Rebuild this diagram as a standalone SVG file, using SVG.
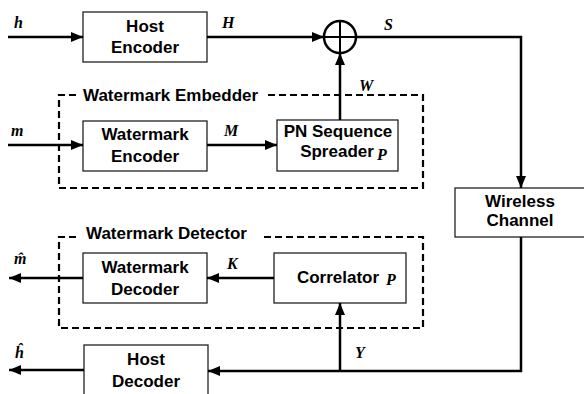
<svg xmlns="http://www.w3.org/2000/svg" width="584" height="394" viewBox="0 0 584 394">
<defs>
<marker id="ah" viewBox="0 0 12 10" refX="12" refY="5" markerWidth="12" markerHeight="10" markerUnits="userSpaceOnUse" orient="auto">
<path d="M0,0 L12,5 L0,10 Z" fill="#000"/>
</marker>
<style>
.box{fill:#fff;stroke:#222;stroke-width:1.3}
.dash{fill:none;stroke:#000;stroke-width:2.2;stroke-dasharray:7 4}
.ln{fill:none;stroke:#000;stroke-width:2.5}
.t{font-family:"Liberation Sans",Arial,sans-serif;font-weight:bold;font-size:17px;fill:#000;text-anchor:middle}
.tl{font-family:"Liberation Sans",Arial,sans-serif;font-weight:bold;font-size:17px;fill:#000}
.v{font-family:"Liberation Serif","Times New Roman",serif;font-weight:bold;font-style:italic;font-size:16px;fill:#000}
</style>
</defs>
<rect width="584" height="394" fill="#fff"/>

<g id="embedder">
<path class="dash" d="M76,95 H59 V188 H423 V95 H266"/>
<text class="tl" x="83" y="101">Watermark Embedder</text>
</g>
<g id="detector">
<path class="dash" d="M76,237 H59 V328 H423 V237 H262"/>
<text class="tl" x="86" y="239">Watermark Detector</text>
</g>

<g id="host-encoder">
<rect class="box" x="83" y="12" width="124" height="50"/>
<text class="t" x="145" y="32">Host</text>
<text class="t" x="145" y="53">Encoder</text>
</g>
<g id="adder">
<circle cx="340" cy="37" r="16" fill="#fff" stroke="#000" stroke-width="2.5"/>
<path d="M324,37 H356 M340,21 V53" stroke="#000" stroke-width="2"/>
</g>
<g id="watermark-encoder">
<rect class="box" x="83" y="121" width="124" height="50"/>
<text class="t" x="145" y="140">Watermark</text>
<text class="t" x="145" y="162">Encoder</text>
</g>
<g id="pn-spreader">
<rect class="box" x="277" y="120" width="121" height="51"/>
<text class="t" x="338" y="137">PN Sequence</text>
<text class="t" x="337" y="157">Spreader</text>
<text class="v" x="377" y="160">P</text>
</g>
<g id="wireless-channel">
<rect class="box" x="455" y="188" width="135" height="49"/>
<text class="t" x="520" y="207">Wireless</text>
<text class="t" x="520" y="226">Channel</text>
</g>
<g id="watermark-decoder">
<rect class="box" x="83" y="253" width="124" height="50"/>
<text class="t" x="145" y="273">Watermark</text>
<text class="t" x="145" y="295">Decoder</text>
</g>
<g id="correlator">
<rect class="box" x="274" y="253" width="132" height="50"/>
<text class="t" x="338" y="283">Correlator</text>
<text class="v" x="386" y="285">P</text>
</g>
<g id="host-decoder">
<rect class="box" x="84" y="345" width="124" height="55"/>
<text class="t" x="146" y="365">Host</text>
<text class="t" x="146" y="387">Decoder</text>
</g>

<g id="connectors">
<path class="ln" d="M8,37 H83" marker-end="url(#ah)"/>
<path class="ln" d="M207,37 H324" marker-end="url(#ah)"/>
<path class="ln" d="M356,37 H521 V188" marker-end="url(#ah)"/>
<path class="ln" d="M340,120 V53" marker-end="url(#ah)"/>
<path class="ln" d="M8,145 H83" marker-end="url(#ah)"/>
<path class="ln" d="M207,145 H277" marker-end="url(#ah)"/>
<path class="ln" d="M521,237 V371 H208" marker-end="url(#ah)"/>
<path class="ln" d="M340,371 V303" marker-end="url(#ah)"/>
<path class="ln" d="M274,278 H207" marker-end="url(#ah)"/>
<path class="ln" d="M83,278 H9" marker-end="url(#ah)"/>
<path class="ln" d="M84,370 H9" marker-end="url(#ah)"/>
</g>

<g id="labels">
<text class="v" x="14" y="28">h</text>
<text class="v" x="222" y="28">H</text>
<text class="v" x="384" y="30">S</text>
<text class="v" x="359" y="91">W</text>
<text class="v" x="11" y="136">m</text>
<text class="v" x="224" y="136">M</text>
<text class="v" x="227" y="269">K</text>
<text class="v" x="355" y="358">Y</text>
<text class="v" x="14" y="264">m̂</text>
<text class="v" x="15" y="358">ĥ</text>
</g>
</svg>
